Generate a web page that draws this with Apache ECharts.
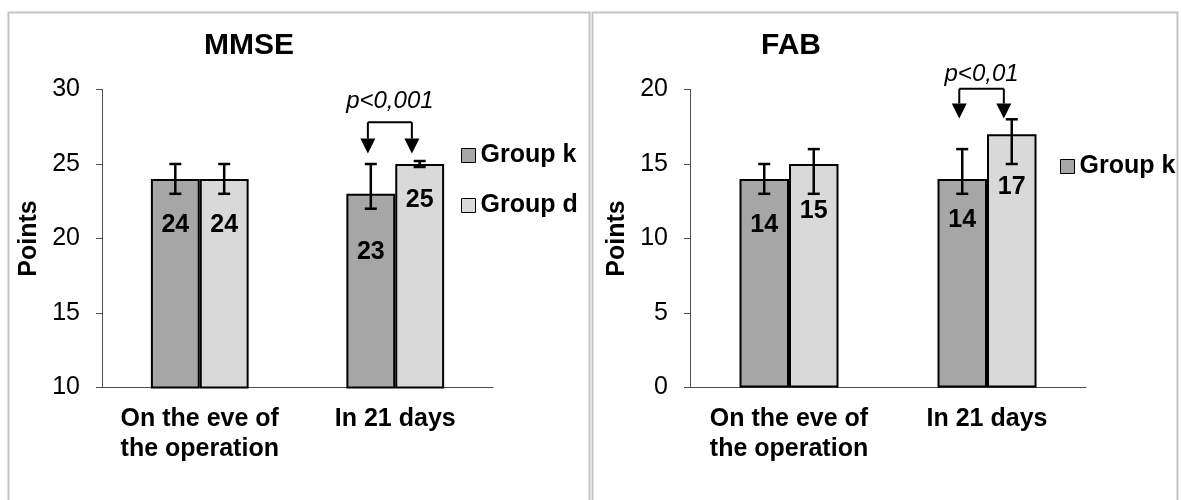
<!DOCTYPE html>
<html>
<head>
<meta charset="utf-8">
<title>MMSE and FAB</title>
<script src="https://cdn.jsdelivr.net/npm/echarts@6/dist/echarts.min.js"></script>
<style>
  html, body { margin: 0; padding: 0; background: #fff; }
  #chart { width: 1181px; height: 500px; }
</style>
</head>
<body>
<div id="chart"></div>
<script>
// data
const categories = ['On the eve of\nthe operation', 'In 21 days'];
const groupNames = ['Group k', 'Group d'];

const mmseTicks = [10, 15, 20, 25, 30];
const mmseGroupK = [24, 23];
const mmseGroupD = [24, 25];
const mmseKLow = [23, 22];
const mmseKHigh = [25, 25];
const mmseDLow = [23, 24.8];
const mmseDHigh = [25, 25.2];

const fabTicks = [0, 5, 10, 15, 20];
const fabGroupK = [14, 14];
const fabGroupD = [15, 17];
const fabKLow = [13, 13];
const fabKHigh = [15, 16];
const fabDLow = [13, 15];
const fabDHigh = [16, 18];

const pTexts = ['p<0,001', 'p<0,01'];

// annotation levels (value units): bracket line, arrow tip, text
const mmseBracket = [27.8, 25.7, 29.2];
const fabBracket = [20.05, 18.05, 21.0];

// layout
const FONT = "'Liberation Sans', Arial, sans-serif";
const DARK = '#a6a6a6';
const LIGHT = '#d9d9d9';
const AXIS = '#4d4d4d';
const arrowOffsets = [-0.14, 0.085]; // share of category width
// label centre below bar top, px
const labelDrop = {
  mmseK: [44, 56], mmseD: [44, 34],
  fabK: [44, 39], fabD: [45, 50]
};

const chart = echarts.init(document.getElementById('chart'));

function barSeries(name, values, drops, color, idx) {
  return {
    type: 'bar',
    name: name,
    xAxisIndex: idx,
    yAxisIndex: idx,
    barWidth: '25%',
    barGap: '0%',
    itemStyle: { color: color, borderColor: '#000', borderWidth: 2 },
    data: values.map((v, i) => ({
      value: v,
      label: { offset: [0, drops[i] - 10] }
    })),
    label: {
      show: true,
      position: 'insideTop',
      distance: 0,
      fontSize: 25,
      fontWeight: 'bold',
      color: '#000',
      fontFamily: FONT
    }
  };
}

function errorSeries(lows, highs, side, idx) {
  return {
    type: 'custom',
    xAxisIndex: idx,
    yAxisIndex: idx,
    silent: true,
    clip: false,
    z: 5,
    data: lows.map((lo, i) => [i, lo, highs[i]]),
    encode: { x: 0, y: [1, 2] },
    renderItem: function (params, api) {
      const band = api.size([1, 0])[0];
      const lo = api.coord([api.value(0), api.value(1)]);
      const hi = api.coord([api.value(0), api.value(2)]);
      const x = lo[0] + side * band * 0.125;
      const cap = 6;
      const style = { stroke: '#000', lineWidth: 2.5 };
      return {
        type: 'group',
        children: [
          { type: 'line', shape: { x1: x, y1: lo[1], x2: x, y2: hi[1] }, style: style },
          { type: 'line', shape: { x1: x - cap, y1: lo[1], x2: x + cap, y2: lo[1] }, style: style },
          { type: 'line', shape: { x1: x - cap, y1: hi[1], x2: x + cap, y2: hi[1] }, style: style }
        ]
      };
    }
  };
}

function bracketSeries(levels, text, idx) {
  return {
    type: 'custom',
    xAxisIndex: idx,
    yAxisIndex: idx,
    silent: true,
    clip: false,
    z: 6,
    data: [[1, levels[0], levels[1], levels[2]]],
    encode: { x: 0, y: 1 },
    renderItem: function (params, api) {
      const band = api.size([1, 0])[0];
      const top = api.coord([api.value(0), api.value(1)]);
      const tipY = api.coord([api.value(0), api.value(2)])[1];
      const textY = api.coord([api.value(0), api.value(3)])[1];
      const xl = top[0] + arrowOffsets[0] * band;
      const xr = top[0] + arrowOffsets[1] * band;
      const head = 15, half = 7.5;
      const st = { stroke: '#000', lineWidth: 2 };
      const arrow = (x) => [
        { type: 'line', shape: { x1: x, y1: top[1], x2: x, y2: tipY - head }, style: st },
        { type: 'polygon', shape: { points: [[x - half, tipY - head], [x + half, tipY - head], [x, tipY]] },
          style: { fill: '#000' } }
      ];
      return {
        type: 'group',
        children: [
          { type: 'line', shape: { x1: xl, y1: top[1], x2: xr, y2: top[1] }, style: st },
          ...arrow(xl),
          ...arrow(xr),
          { type: 'text', style: {
              text: text, x: (xl + xr) / 2, y: textY,
              align: 'center', verticalAlign: 'middle',
              font: 'italic 24px ' + FONT, fill: '#000' } }
        ]
      };
    }
  };
}

function xAxis(idx) {
  return {
    type: 'category',
    gridIndex: idx,
    data: categories,
    axisLine: { lineStyle: { color: AXIS, width: 1 } },
    axisTick: { length: 7, lineStyle: { color: AXIS } },
    axisLabel: {
      interval: 0, margin: 17, fontSize: 25, lineHeight: 30,
      fontWeight: 'bold', color: '#000', fontFamily: FONT
    }
  };
}

function yAxis(idx, ticks) {
  return {
    type: 'value',
    gridIndex: idx,
    min: ticks[0],
    max: ticks[ticks.length - 1],
    interval: ticks[1] - ticks[0],
    name: 'Points',
    nameLocation: 'middle',
    nameRotate: 90,
    nameGap: 60,
    nameTextStyle: { fontSize: 25, fontWeight: 'bold', color: '#000', fontFamily: FONT },
    axisLine: { show: true, lineStyle: { color: AXIS, width: 1 } },
    axisTick: { show: true, length: 6, lineStyle: { color: AXIS } },
    splitLine: { show: false },
    axisLabel: { margin: 22, fontSize: 25, color: '#000', fontFamily: FONT }
  };
}

const legendBase = {
  orient: 'vertical',
  icon: 'rect',
  padding: 0,
  itemWidth: 14,
  itemHeight: 14,
  itemGap: 25,
  itemStyle: { borderColor: '#000', borderWidth: 1 },
  textStyle: { fontSize: 25, fontWeight: 'bold', color: '#000', fontFamily: FONT },
  selectedMode: false
};

const option = {
  animation: false,
  backgroundColor: '#fff',
  textStyle: { fontFamily: FONT },
  grid: [
    { left: 102, top: 89.5, width: 391, height: 298 },
    { left: 690, top: 89.5, width: 396, height: 298 }
  ],
  legend: [
    Object.assign({}, legendBase, { data: groupNames, left: 461, top: 143 }),
    Object.assign({}, legendBase, { data: [groupNames[0]], left: 1060, top: 154 })
  ],
  xAxis: [xAxis(0), xAxis(1)],
  yAxis: [yAxis(0, mmseTicks), yAxis(1, fabTicks)],
  graphic: [
    { type: 'rect', shape: { x: 8.5, y: 12.5, width: 581, height: 500 },
      style: { fill: null, stroke: '#c4c4c4', lineWidth: 2 }, silent: true },
    { type: 'rect', shape: { x: 592.5, y: 12.5, width: 585, height: 500 },
      style: { fill: null, stroke: '#c4c4c4', lineWidth: 2 }, silent: true },
    { type: 'text', x: 249, y: 46, silent: true,
      style: { text: 'MMSE', align: 'center', verticalAlign: 'middle',
        font: 'bold 30px ' + FONT, fill: '#000' } },
    { type: 'text', x: 791, y: 46, silent: true,
      style: { text: 'FAB', align: 'center', verticalAlign: 'middle',
        font: 'bold 30px ' + FONT, fill: '#000' } }
  ],
  series: [
    barSeries(groupNames[0], mmseGroupK, labelDrop.mmseK, DARK, 0),
    barSeries(groupNames[1], mmseGroupD, labelDrop.mmseD, LIGHT, 0),
    errorSeries(mmseKLow, mmseKHigh, -1, 0),
    errorSeries(mmseDLow, mmseDHigh, 1, 0),
    bracketSeries(mmseBracket, pTexts[0], 0),
    barSeries(groupNames[0], fabGroupK, labelDrop.fabK, DARK, 1),
    barSeries(groupNames[1], fabGroupD, labelDrop.fabD, LIGHT, 1),
    errorSeries(fabKLow, fabKHigh, -1, 1),
    errorSeries(fabDLow, fabDHigh, 1, 1),
    bracketSeries(fabBracket, pTexts[1], 1)
  ]
};

chart.setOption(option);
window.addEventListener('resize', chart.resize);
</script>
</body>
</html>
